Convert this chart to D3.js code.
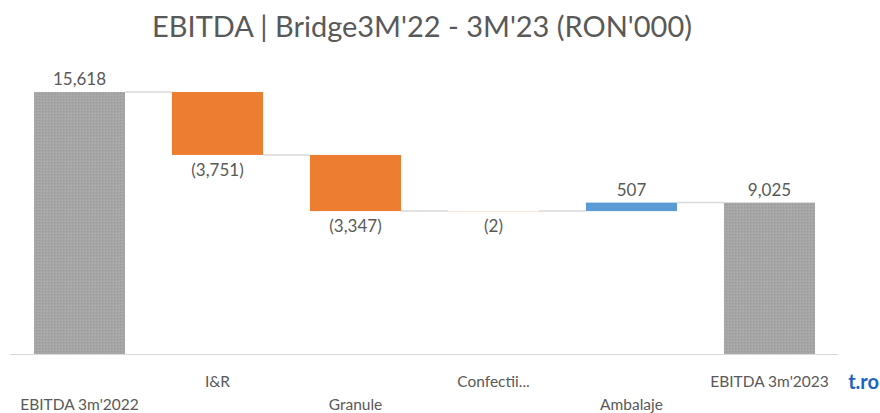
<!DOCTYPE html>
<html><head><meta charset="utf-8">
<script src="https://cdn.jsdelivr.net/npm/d3@7"></script>
<style>body{margin:0;background:#fff}svg{display:block}text{font-family:Lato,"Open Sans",sans-serif}</style>
</head><body>
<svg id="c" width="880" height="413"></svg>
<script>
const categories = ["EBITDA 3m'2022","I&R","Granule","Confectii...","Ambalaje","EBITDA 3m'2023"];
const values = [15618, -3751, -3347, -2, 507, 9025];
const kinds = ["total","delta","delta","delta","delta","total"];
const labels = ["15,618","(3,751)","(3,347)","(2)","507","9,025"];
const title = "EBITDA | Bridge3M'22 - 3M'23 (RON'000)";

const svg = d3.select("#c");
const x = d3.scaleBand().domain(categories).range([10.5, 838.5]).paddingInner(0.34).paddingOuter(0.17);
const y = d3.scaleLinear().domain([0, 15618]).range([354, 92]);

let run = 0;
const rows = categories.map((c,i)=>{
  let y0,y1;
  if(kinds[i]==="total"){ y0=0; y1=values[i]; run=values[i]; }
  else { y0=run; y1=run+values[i]; run=y1; }
  return {c, v:values[i], y0, y1, kind:kinds[i], label:labels[i], end:run};
});

const defs = svg.append("defs");
const pat = defs.append("pattern").attr("id","hatch").attr("patternUnits","userSpaceOnUse").attr("width",3).attr("height",3);
pat.append("rect").attr("width",3).attr("height",3).attr("fill","#a6a6a6");
pat.append("rect").attr("width",1).attr("height",1).attr("fill","#999999");
pat.append("rect").attr("x",2).attr("y",2).attr("width",1).attr("height",1).attr("fill","#b0b0b0");

const t = svg.append("text").attr("x",422).attr("y",37).attr("text-anchor","middle")
  .attr("fill","#595959").style("font-size","27px").text(title);
const tw = t.node().getComputedTextLength();
t.style("font-size",(27*540/tw).toFixed(2)+"px");

svg.append("line").attr("x1",10).attr("x2",838).attr("y1",354.5).attr("y2",354.5).attr("stroke","#d9d9d9").attr("stroke-width",1);

rows.forEach((r,i)=>{
  if(i<rows.length-1){
    svg.append("line")
      .attr("x1",x(r.c)+x.bandwidth()).attr("x2",x(categories[i+1]))
      .attr("y1",y(r.end)).attr("y2",y(r.end))
      .attr("stroke","#d9d9d9").attr("stroke-width",1.5);
  }
});

const color = r => r.kind==="total" ? "url(#hatch)" : (r.v<0 ? "#ED7D31" : "#5B9BD5");
svg.selectAll("rect.bar").data(rows).join("rect").attr("class","bar")
  .attr("x",d=>x(d.c)).attr("width",x.bandwidth())
  .attr("y",d=>y(Math.max(d.y0,d.y1)))
  .attr("height",d=>Math.max(0.6, Math.abs(y(d.y0)-y(d.y1))))
  .attr("fill",d=>color(d)).attr("fill-opacity",d=>(d.kind==="delta"&&Math.abs(d.v)<10)?0.35:1);

svg.selectAll("text.val").data(rows).join("text").attr("class","val")
  .attr("x",d=>x(d.c)+x.bandwidth()/2)
  .attr("y",d=> d.v<0 ? y(Math.min(d.y0,d.y1))+21 : y(Math.max(d.y0,d.y1))-7)
  .attr("text-anchor","middle").attr("fill","#595959").style("font-size","17px")
  .text(d=>d.label);

svg.selectAll("text.cat").data(categories).join("text").attr("class","cat")
  .attr("x",d=>x(d)+x.bandwidth()/2)
  .attr("y",(d,i)=> i%2===0 ? 410 : 387)
  .attr("text-anchor","middle").attr("fill","#595959").style("font-size","15.5px")
  .text(d=>d);

svg.append("clipPath").attr("id","wm").append("rect").attr("x",846).attr("y",360).attr("width",40).attr("height",40);
svg.append("text").attr("x",879).attr("y",389).attr("text-anchor","end").attr("clip-path","url(#wm)")
  .attr("fill","#1a64c0").style("font-size","20px").style("font-weight","bold").text("t.ro");
</script>
</body></html>
